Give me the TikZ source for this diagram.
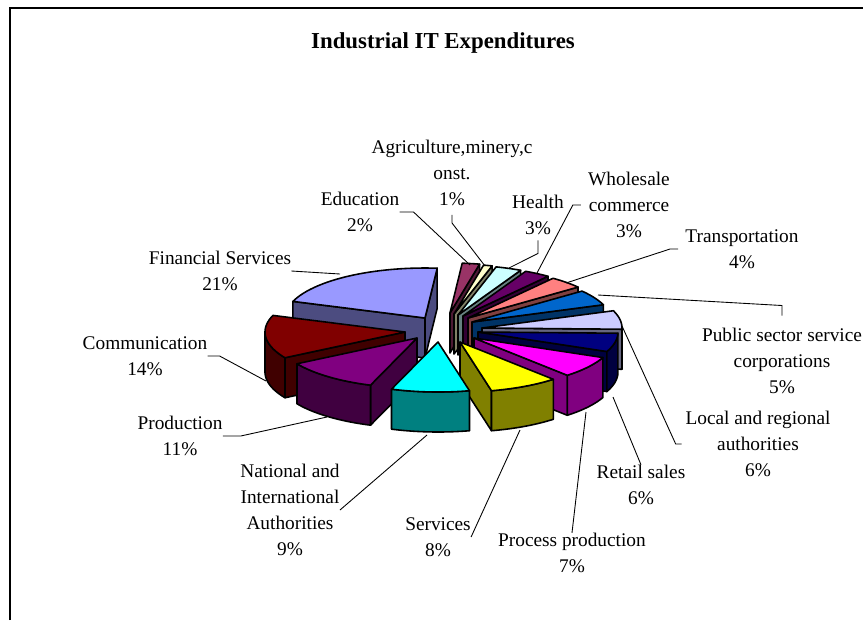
\documentclass[tikz,border=0pt]{standalone}
\usepackage{fontspec}
\setmainfont{Liberation Serif}
\usetikzlibrary{calc}
\definecolor{eduC}{HTML}{993366}
\definecolor{agriC}{HTML}{FFFFCC}
\definecolor{healthC}{HTML}{CCFFFF}
\definecolor{wholeC}{HTML}{660066}
\definecolor{transC}{HTML}{FF8080}
\definecolor{pubC}{HTML}{0066CC}
\definecolor{localC}{HTML}{CCCCFF}
\definecolor{retailC}{HTML}{000080}
\definecolor{procC}{HTML}{FF00FF}
\definecolor{servC}{HTML}{FFFF00}
\definecolor{natC}{HTML}{00FFFF}
\definecolor{prodC}{HTML}{800080}
\definecolor{commC}{HTML}{800000}
\definecolor{finC}{HTML}{9999FF}
\newcommand{\pieRx}{140}
\newcommand{\pieRy}{50}
\newcommand{\pieH}{40}
% #1,#2 angles (clockwise from top), #3,#4 apex, #5 colour
\newcommand{\pieslice}[5]{%
  \pgfmathtruncatemacro{\vsa}{sin(#1)<0}%
  \pgfmathtruncatemacro{\vsb}{sin(#2)>0}%
  \pgfmathsetmacro{\pfa}{max(#1,90)}%
  \pgfmathsetmacro{\pfb}{min(#2,270)}%
  \pgfmathtruncatemacro{\vf}{\pfa<\pfb}%
  \ifnum\vsa=1
    \filldraw[edge,fill=#5!50!black] (#3,#4) -- ({#3+\pieRx*sin(#1)},{#4-\pieRy*cos(#1)}) -- ++(0,\pieH) -- ({#3},{#4+\pieH}) -- cycle;
  \fi
  \ifnum\vsb=1
    \filldraw[edge,fill=#5!50!black] (#3,#4) -- ({#3+\pieRx*sin(#2)},{#4-\pieRy*cos(#2)}) -- ++(0,\pieH) -- ({#3},{#4+\pieH}) -- cycle;
  \fi
  \ifnum\vf=1
    \filldraw[edge,fill=#5!50!black] plot[domain=\pfa:\pfb,samples=25] ({#3+\pieRx*sin(\x)},{#4-\pieRy*cos(\x)})
      -- plot[domain=\pfb:\pfa,samples=25] ({#3+\pieRx*sin(\x)},{#4+\pieH-\pieRy*cos(\x)}) -- cycle;
  \fi
  \filldraw[edge,fill=#5] (#3,#4) -- plot[domain=#1:#2,samples=30] ({#3+\pieRx*sin(\x)},{#4-\pieRy*cos(\x)}) -- cycle;
}
\tikzset{
  edge/.style={draw=black,line width=0.9pt,line join=round},
  lbl/.style={align=center,inner sep=0pt,font=\fontsize{11}{14.8}\selectfont},
  leader/.style={line width=0.5pt}
}
\begin{document}
\begin{tikzpicture}[x=0.02cm,y=-0.02cm]
\useasboundingbox (0,0) rectangle (863,620);
\draw[line width=1.1pt] (10,620) -- (10,8) -- (863,8); %边框
\node[font=\fontsize{13}{15}\selectfont\bfseries] (title) at (443,43) {Industrial IT Expenditures};
% 扇区
\foreach \ta/\tb/\ox/\oy/\col in {5/12.2/450/313/eduC, 12.2/15.8/454/314/agriC,
  15.8/26.6/458/315/healthC, 26.6/37.4/463/316/wholeC, 37.4/51.8/468/318/transC,
  51.8/69.8/472/322/pubC, 69.8/91.4/482/328/localC, 91.4/113/478/332/retailC,
  113/138.2/474/338/procC, 138.2/167/460/342/servC, 289.4/365/425/318/finC,
  239/289.4/405/332/commC, 199.4/239/417/338/prodC, 167/199.4/438/342/natC}
  {\pieslice{\ta}{\tb}{\ox}{\oy}{\col}}
% 标签
\node[lbl] (agri) at (452,173) {Agriculture,minery,c\\onst.\\1\%};
\node[lbl] (edu) at (360,212) {Education\\2\%};
\node[lbl] (health) at (538,215) {Health\\3\%};
\node[lbl] (whole) at (629,205) {Wholesale\\commerce\\3\%};
\node[lbl] (trans) at (742,249) {Transportation\\4\%};
\node[lbl] (pub) at (782,361) {Public sector service\\corporations\\5\%};
\node[lbl] (local) at (758,444) {Local and regional\\authorities\\6\%};
\node[lbl] (retail) at (641,485) {Retail sales\\6\%};
\node[lbl] (proc) at (572,553) {Process production\\7\%};
\node[lbl] (serv) at (438,537) {Services\\8\%};
\node[lbl] (nat) at (290,510) {National and\\International\\Authorities\\9\%};
\node[lbl] (prod) at (180,436) {Production\\11\%};
\node[lbl] (comm) at (145,356) {Communication\\14\%};
\node[lbl] (fin) at (220,271) {Financial Services\\21\%};
% 引线
\coordinate (agriP) at (485,266);
\coordinate (eduP) at (470,265);
\coordinate (healthP) at (509,268);
\coordinate (wholeP) at (537,273);
\coordinate (transP) at (566,283);
\coordinate (pubP) at (598,295);
\coordinate (localP) at (622,326);
\coordinate (retailP) at (613,397);
\coordinate (procP) at (586,412);
\coordinate (servP) at (520,430);
\coordinate (natP) at (427,435);
\coordinate (prodP) at (327,417);
\coordinate (commP) at (266,381);
\coordinate (finP) at (340,274);
\draw[leader] ([yshift=-5pt]agri.south) -- ++(0,8) -- (agriP);
\draw[leader] (edu.east) -- ++(14,0) -- (eduP);
\draw[leader] ([yshift=-3pt]health.south) -- ++(0,13) -- (healthP);
\draw[leader] ([xshift=-4pt]whole.west) -- ++(-8,0) -- (wholeP);
\draw[leader] ([xshift=-4pt]trans.west) -- ++(-8,0) -- (transP);
\draw[leader] ([yshift=7pt]pub.north) -- ++(0,-10) -- (pubP);
\draw[leader] ([xshift=-2pt]local.west) -- ++(-6,0) -- (localP);
\draw[leader] (retail.north) -- (retailP);
\draw[leader] (proc.north) -- (procP);
\draw[leader] (serv.east) -- (servP);
\draw[leader] (nat.east) -- (natP);
\draw[leader] (prod.east) -- ++(18,0) -- (prodP);
\draw[leader] (comm.east) -- ++(12,0) -- (commP);
\draw[leader] (fin.east) -- (finP);
\end{tikzpicture}
\end{document}
